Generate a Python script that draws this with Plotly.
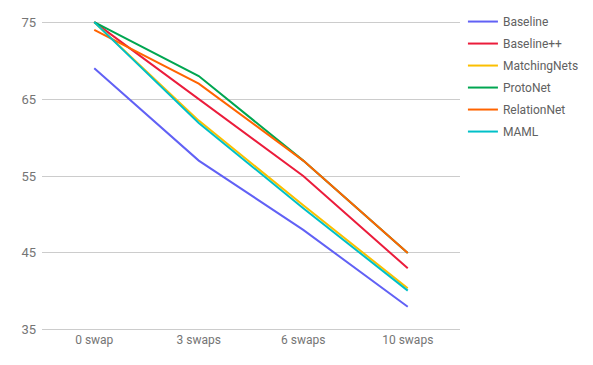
import plotly.graph_objects as go

swaps = ['0 swap', '3 swaps', '6 swaps', '10 swaps']

baseline = [69, 57, 48, 38]
baseline_pp = [75, 65, 55, 43]
matching_nets = [75, 62.2, 51.2, 40.4]
proto_net = [75, 68, 57, 45]
relation_net = [74, 67, 57, 45]
maml = [75, 61.9, 50.8, 40.1]

series = [
    ('Baseline', baseline, '#6161f5'),
    ('Baseline++', baseline_pp, '#eb1c3b'),
    ('MatchingNets', matching_nets, '#fbbf00'),
    ('ProtoNet', proto_net, '#00a651'),
    ('RelationNet', relation_net, '#ff6400'),
    ('MAML', maml, '#00c0c8'),
]

fig = go.Figure()
for name, vals, color in series:
    fig.add_trace(go.Scatter(x=swaps, y=vals, name=name, mode='lines',
                             line=dict(color=color, width=2),
                             legendgroup=name))

# page body has an 8px margin, so the plot area is shifted back by that
fig.update_layout(
    width=593, height=365,
    margin=dict(l=34, r=141, t=13, b=42, autoexpand=False),
    paper_bgcolor='white', plot_bgcolor='white',
    font=dict(family='Roboto', size=12, color='#757575'),
    showlegend=True,
    legend=dict(x=1.007, y=1.045, xanchor='left', yanchor='top',
                font=dict(size=12, color='#616161'),
                tracegroupgap=3, itemwidth=30),
    xaxis=dict(range=[-0.5, 3.5], showgrid=False, showline=False, ticks='',
               zeroline=False),
    yaxis=dict(range=[34.85, 75.15], tickvals=[35, 45, 55, 65, 75],
               showgrid=True, gridcolor='#cccccc', gridwidth=1,
               zeroline=False, showline=False, ticks='',
               ticklabelstandoff=5, tickfont=dict(size=13)),
)

fig.write_html("out.html")
